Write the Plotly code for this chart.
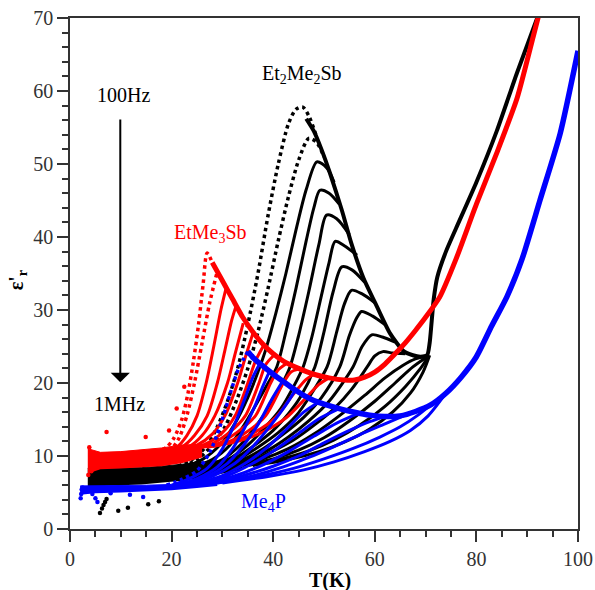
import plotly.graph_objects as go

# ---------------- Et2Me2Sb (black) ----------------
blk_T = [
    [20, 24, 27, 29, 31, 33, 35, 37, 39, 41, 43, 44.5, 45.8, 47, 48.5],
    [21, 25, 28, 30.5, 33, 35, 37, 39, 41, 43, 45, 47, 48.5, 50],
    [22, 26, 29.5, 32.5, 35, 37, 38.5, 40.5, 42.5, 44.5, 46.5, 48.6, 50.5, 52],
    [24, 28, 31.5, 34.5, 37, 39, 40.7, 42.5, 44.5, 46.5, 48, 49.2, 51, 53],
    [26, 30, 33.5, 36.5, 39.5, 41.5, 43.3, 45, 47, 49, 50.5, 52.5, 55],
    [27, 31, 35, 38.5, 41.5, 44, 45.9, 47.5, 49.5, 51, 52.2, 54, 56.5],
    [28, 32, 36, 40, 43, 45.3, 48.2, 50, 51.8, 53.5, 55.5, 58],
    [29, 33, 37, 41, 44.5, 47.5, 50.6, 52.5, 54, 55.4, 57.5, 60],
    [30, 34, 38, 42, 46, 49.5, 53.1, 55, 56.5, 57.4, 59.5, 62],
    [31, 35, 39, 43, 47, 51, 55.7, 57.5, 59.4, 61.5, 64],
    [32, 36, 40, 44, 48, 52, 55.5, 58.5, 60, 61.6, 63.5, 66],
    [33, 38, 43, 48, 53, 58, 62, 65.5, 68, 70.3],
    [34, 40, 45, 50, 55, 60, 64, 67.5, 70.3],
    [35, 41, 47, 52, 57, 62, 66, 69, 70.5],
    [36, 43, 49, 54, 59, 63.5, 67, 69.5, 70.8],
]
blk_eps = [
    [8.3, 9.5, 11.5, 14, 17.5, 22, 28, 35, 43, 50, 55.5, 57.5, 57.8, 56.6, 53.8],
    [8.3, 9.5, 11.5, 14, 18, 22, 27, 33, 39.5, 45.5, 50.5, 53.5, 53, 51],
    [8.4, 9.5, 11.5, 14.5, 18, 21.5, 24.5, 29.5, 35, 41, 46.5, 50.3, 49.5, 47.5],
    [8.4, 9.5, 11.5, 14.5, 17.5, 20, 22.2, 27, 33, 39.5, 44, 46.4, 46, 44.5],
    [8.5, 9.5, 11.5, 14, 17, 19.5, 22.2, 26.5, 32.5, 39, 43, 42.5, 40.3],
    [8.5, 9.5, 11.5, 14, 16.5, 19.5, 22.2, 26, 32, 36.5, 39.4, 38.8, 37.5],
    [8.5, 9.5, 11.3, 13.5, 15.8, 18, 22.2, 27, 32.5, 35.9, 35.5, 33.8],
    [8.5, 9.5, 11.2, 13.2, 15.5, 18.5, 22.2, 27, 30.8, 32.7, 32.2, 31],
    [8.6, 9.5, 11, 13, 15.3, 18, 22.2, 26.5, 29, 29.8, 29.2, 28],
    [8.6, 9.5, 10.8, 12.6, 14.8, 17.5, 22.2, 25, 26.6, 26.3, 25.6],
    [8.6, 9.4, 10.7, 12.2, 14.2, 16.5, 19.2, 22.2, 23.7, 24.3, 24.1, 24],
    [8.7, 9.6, 11, 13, 15.5, 18.3, 20.7, 22.4, 23.3, 23.7],
    [8.7, 9.6, 10.8, 12.5, 14.8, 17.5, 20, 22.2, 23.6],
    [8.7, 9.5, 10.7, 12.2, 14.2, 16.8, 19.5, 22, 23.6],
    [8.7, 9.5, 10.6, 11.9, 13.7, 16, 18.6, 21.5, 23.8],
]
blk_env_T = [46.5, 48, 49.5, 51.2, 53.5, 55.4, 57.7, 60.4, 63, 65.6, 67.5, 69,
             70.3, 70.8, 71.2, 71.6, 72.3, 74, 76, 80, 84, 88, 92.5]
blk_env_eps = [56.2, 54.5, 52, 48.7, 43.7, 39.1, 34.5, 30.5, 26.8, 24.4, 23.8, 23.6,
               23.8, 25.5, 28.5, 31.5, 34.5, 38, 41.2, 47.5, 54.5, 62.5, 71]
blk_band_T = [3.5, 6, 10, 14, 18, 22, 26, 30, 34]
blk_band_lo = [5.8, 5.9, 6.0, 6.1, 6.3, 6.6, 7.0, 7.6, 8.2]
blk_band_hi = [8.3, 8.3, 8.3, 8.4, 8.6, 8.9, 9.2, 9.4, 9.2]
blk_noise_T = [5.9, 6.3, 6.6, 6.9, 7.2, 9.5, 11.4, 15.4, 17.5]
blk_noise_eps = [2.2, 2.8, 3.3, 3.7, 4.1, 2.5, 2.9, 3.4, 3.8]

# ---------------- EtMe3Sb (red) ----------------
red_T = [
    [17, 19, 20.5, 22, 23.2, 24.3, 25.3, 26.2, 27, 28],
    [18, 20, 21.5, 23, 24.5, 26, 27.5, 29],
    [19, 21, 23, 25, 26.8, 28.3, 29.7, 30.8],
    [20, 22, 24.5, 27, 29, 30.5, 31.8, 32.8],
    [21, 23.5, 26, 28.5, 31, 32.5, 34.1],
    [22, 25, 28, 30.5, 33, 34.5, 36],
    [23, 26.5, 30, 32.5, 35, 36.5, 38],
    [24, 28, 31.5, 34.5, 37.2, 38.5, 40],
    [25, 29.5, 33, 36.5, 39.5, 41, 42.5],
    [26, 31, 35, 38.5, 42, 43.5, 45],
    [27, 32, 36.5, 40.5, 44, 46.5, 48],
    [28, 33, 38, 42.5, 46.5, 49, 51],
]
red_eps = [
    [10.5, 11.2, 12.5, 15, 18.5, 23, 28, 33.5, 37.8, 36.5],
    [10.5, 11, 12.5, 15.5, 20, 25.5, 31, 35.3],
    [10.6, 11.2, 12.8, 15.5, 20, 25, 30, 33.2],
    [10.7, 11.2, 12.8, 15.5, 20, 24.5, 28.5, 30.8],
    [10.8, 11.3, 12.8, 15.5, 20, 24, 28.2],
    [10.9, 11.5, 13, 15.5, 20, 23.5, 26.8],
    [11, 11.6, 13.2, 15.5, 20, 23, 25],
    [11, 11.7, 13.3, 15.5, 20, 22.5, 23.7],
    [11.1, 11.8, 13.3, 15.5, 20, 21.8, 22.6],
    [11.2, 11.9, 13.4, 15.5, 20, 21.5, 21.9],
    [11.2, 11.9, 13.3, 15.3, 18.5, 20.5, 21.2],
    [11.3, 12, 13.3, 15.2, 18, 19.8, 20.7],
]
red_env_T = [28, 30, 32, 34, 36, 38, 40, 42, 45, 48, 51, 54, 56, 58, 60, 62, 64,
             66, 68, 70, 72.8, 76, 80, 84, 88, 91.2, 92.5]
red_env_eps = [36.5, 34, 31.5, 29, 27, 25.3, 24, 23, 22, 21.2, 20.7, 20.4, 20.4,
               20.8, 21.5, 22.6, 24, 25.5, 27.2, 29, 31.8, 37, 44.5, 51.5, 59, 67.5, 71]
red_band_T = [3.5, 6, 10, 14, 18, 22, 26]
red_band_lo = [7.6, 8.2, 8.3, 8.4, 8.6, 9.0, 9.8]
red_band_hi = [11.0, 10.5, 10.6, 10.8, 11.1, 11.5, 11.6]
red_noise_T = [7.2, 14.9, 3.6, 3.8, 4.2, 19.5, 21.0, 22.5]
red_noise_eps = [13.3, 12.6, 7.4, 11.2, 7.9, 13.5, 16.5, 19.5]

# ---------------- Me4P (blue) ----------------
blu_T = [
    [19, 22, 25, 27.5, 29.5, 31.5, 33.2, 35],
    [20, 23.5, 27, 30, 32.5, 34.5, 36, 37.4],
    [21, 25, 29, 32, 34.5, 36.5, 38, 39.4],
    [22, 27, 31, 34, 37, 39.5, 42],
    [23, 28, 32.5, 36, 39.5, 42.5, 44.6],
    [24, 30, 34.5, 38.5, 42.5, 46, 49],
    [25, 31, 36, 40.5, 45, 49, 53],
    [26, 32.5, 38, 43, 48, 52.5, 57],
    [27, 34, 40, 45, 50, 55, 59, 62],
    [28, 35.5, 42, 47, 52, 57, 62, 66],
    [29, 37, 44, 50, 56, 61, 65, 68.5, 71],
    [30, 39, 46, 52, 58, 63, 67, 70.5, 74],
]
blu_eps = [
    [6.0, 6.8, 8, 10.5, 14, 18.5, 22, 24.3],
    [6.0, 6.9, 8.3, 11, 14.5, 18, 20.8, 22.7],
    [6.0, 6.9, 8.5, 11, 14, 17, 19.6, 21.8],
    [6.1, 7.2, 9, 11.3, 14.3, 17.5, 20.4],
    [6.1, 7.2, 9, 11.3, 14.2, 17, 19.3],
    [6.1, 7.3, 9, 11, 13.6, 16, 17.4],
    [6.2, 7.3, 9, 10.9, 13.1, 15.1, 16.5],
    [6.2, 7.3, 8.8, 10.6, 12.7, 14.5, 15.9],
    [6.2, 7.3, 8.6, 10, 11.8, 13.5, 14.7, 15.4],
    [6.2, 7.2, 8.5, 9.8, 11.3, 12.9, 14.4, 15.6],
    [6.3, 7.2, 8.3, 9.6, 11.1, 12.6, 14, 15.6, 17],
    [6.3, 7.2, 8.1, 9.2, 10.6, 12, 13.5, 15.5, 18.6],
]
blu_env_T = [35, 36, 38, 40, 42, 44, 46, 48, 50, 53, 56, 59, 62, 65, 68, 71, 74, 77,
             80, 83, 86, 89, 92.5, 96.5, 100]
blu_env_eps = [24.3, 23.5, 22.3, 21.2, 20.2, 19.2, 18.3, 17.6, 17.1, 16.5, 16, 15.6,
               15.4, 15.5, 16.1, 17, 18.6, 20.8, 23.6, 27.8, 31.8, 37, 45, 54.2, 65.5]
blu_band_T = [2, 5, 10, 15, 20, 25, 29]
blu_band_lo = [4.7, 4.9, 5.0, 5.1, 5.3, 5.6, 5.9]
blu_band_hi = [5.9, 5.9, 6.0, 6.0, 6.1, 6.4, 6.5]
blu_noise_T = [2.1, 2.2, 2.3, 2.5, 4.4, 5.0, 5.4, 11.8, 14.4, 8.0]
blu_noise_eps = [4.2, 4.8, 5.4, 5.7, 4.8, 4.2, 3.7, 4.7, 4.4, 4.9]

# ---------------- annotations ----------------
labels_text = ["Et<sub>2</sub>Me<sub>2</sub>Sb", "EtMe<sub>3</sub>Sb", "Me<sub>4</sub>P", "100Hz", "1MHz"]
labels_T = [45.7, 27.6, 38.0, 10.5, 9.75]
labels_eps = [62.2, 40.5, 3.6, 59.4, 17.1]
labels_color = ["#000000", "#ff0000", "#0000ff", "#000000", "#000000"]
arrow_T = 9.9
arrow_from = 56.3
arrow_to = 20.1

FONT = "Liberation Serif, Times New Roman, serif"

fig = go.Figure()


def add_family(Ts, Es, env_T, env_E, band_T, lo, hi, nT, nE, color, env_w, dotted):
    fig.add_trace(go.Scatter(x=band_T, y=lo, mode="lines", line=dict(width=0, color=color),
                             hoverinfo="skip", showlegend=False))
    fig.add_trace(go.Scatter(x=band_T, y=hi, mode="lines", line=dict(width=1, color=color),
                             fill="tonexty", fillcolor=color, hoverinfo="skip", showlegend=False))
    fig.add_trace(go.Scatter(x=nT, y=nE, mode="markers", marker=dict(size=4.5, color=color),
                             hoverinfo="skip", showlegend=False))
    for i, (t, e) in enumerate(zip(Ts, Es)):
        dash = "dot" if i < dotted else "solid"
        w = 3.5 if i < dotted else 3
        fig.add_trace(go.Scatter(x=t, y=e, mode="lines",
                                 line=dict(color=color, width=w, dash=dash, shape="spline", smoothing=0.8),
                                 hoverinfo="skip", showlegend=False))
    fig.add_trace(go.Scatter(x=env_T, y=env_E, mode="lines",
                             line=dict(color=color, width=env_w, shape="spline", smoothing=0.6),
                             hoverinfo="skip", showlegend=False))


add_family(blk_T, blk_eps, blk_env_T, blk_env_eps, blk_band_T, blk_band_lo, blk_band_hi,
           blk_noise_T, blk_noise_eps, "#000000", 4, 2)
add_family(red_T, red_eps, red_env_T, red_env_eps, red_band_T, red_band_lo, red_band_hi,
           red_noise_T, red_noise_eps, "#ff0000", 5, 2)
add_family(blu_T, blu_eps, blu_env_T, blu_env_eps, blu_band_T, blu_band_lo, blu_band_hi,
           blu_noise_T, blu_noise_eps, "#0000ff", 5.5, 1)

annotations = []
for txt, t, e, c in zip(labels_text, labels_T, labels_eps, labels_color):
    annotations.append(dict(x=t, y=e, xref="x", yref="y", text=txt, showarrow=False,
                            font=dict(family=FONT, size=20, color=c),
                            xanchor="center", yanchor="middle"))
annotations.append(dict(x=arrow_T, y=arrow_to, ax=arrow_T, ay=arrow_from, xref="x", yref="y",
                        axref="x", ayref="y", text="", showarrow=True, arrowhead=1,
                        arrowwidth=2, arrowsize=1.6, arrowcolor="#000000"))
annotations.append(dict(x=0.512, y=-0.1, xref="paper", yref="paper", text="<b>T(K)</b>",
                        showarrow=False, font=dict(family=FONT, size=20, color="#000000"),
                        xanchor="center", yanchor="middle"))
annotations.append(dict(x=-0.104, y=0.487, xref="paper", yref="paper",
                        text="<b>ε'<sub>r</sub></b>", textangle=-90,
                        showarrow=False, font=dict(family=FONT, size=20, color="#000000"),
                        xanchor="center", yanchor="middle"))

axis_common = dict(showgrid=False, zeroline=False, showline=True, linecolor="#333333",
                   linewidth=1.5, mirror=True, ticks="outside", ticklen=11, tickwidth=1.5,
                   tickcolor="#333333", automargin=False, ticklabeloverflow="allow",
                   tickfont=dict(family=FONT, size=20, color="#333333"))

fig.update_layout(
    width=595, height=590,
    margin=dict(l=70, r=17, t=18, b=61),
    paper_bgcolor="white", plot_bgcolor="white",
    xaxis=dict(range=[0, 100], tick0=0, dtick=20,
               minor=dict(dtick=5, ticks="outside", ticklen=6, tickwidth=1.5, tickcolor="#333333"),
               **axis_common),
    yaxis=dict(range=[0, 70], tick0=0, dtick=10,
               minor=dict(dtick=2, ticks="outside", ticklen=6, tickwidth=1.5, tickcolor="#333333"),
               **axis_common),
    annotations=annotations,
    showlegend=False,
)

# remove the default 8px page margin so the 595x590 figure fills the window exactly
fig.write_html("out.html", config={"displayModeBar": False},
               post_script="document.body.style.margin='0px';document.body.style.overflow='hidden';")
